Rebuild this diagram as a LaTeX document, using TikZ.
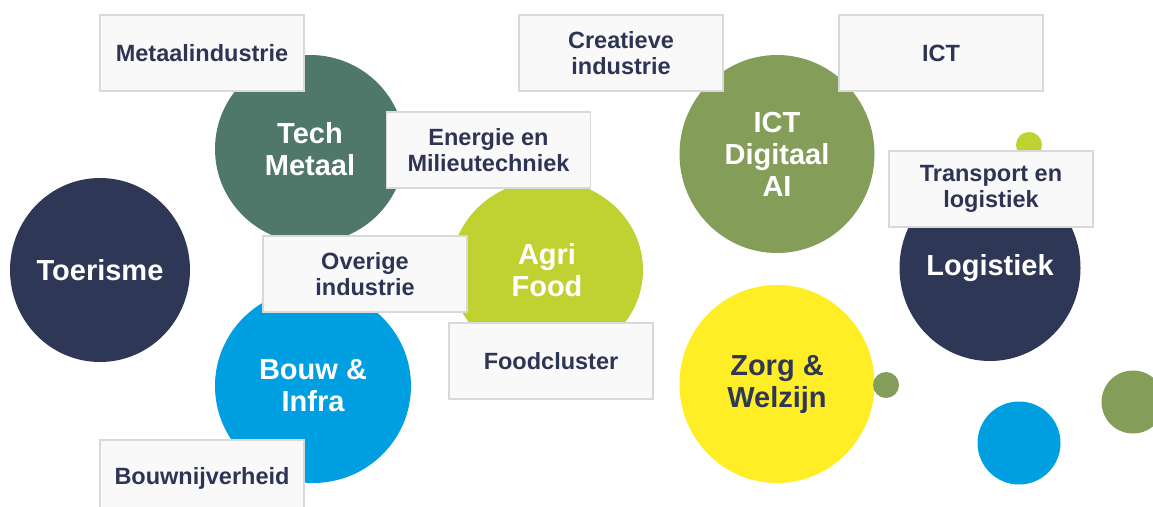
\documentclass[tikz,border=0pt]{standalone}
\usepackage{fontspec}
\setmainfont{Liberation Sans}
\usetikzlibrary{shapes.geometric}
\definecolor{navy}{HTML}{2F3757}
\definecolor{techgreen}{HTML}{50786A}
\definecolor{lime}{HTML}{BFD231}
\definecolor{bouwblue}{HTML}{009FE1}
\definecolor{olive}{HTML}{849E5A}
\definecolor{zorgyellow}{HTML}{FFEE26}
\definecolor{boxfill}{HTML}{F9F9F9}
\definecolor{boxline}{HTML}{D9D9D9}
\definecolor{boxtext}{HTML}{2E3554}
\tikzset{
  blob/.style={ellipse, inner sep=0pt, text=white, align=center,
    font=\fontsize{29}{32}\selectfont\bfseries},
  sector/.style={rectangle, draw=boxline, line width=1.2pt, fill=boxfill,
    minimum width=204pt, minimum height=76pt, inner sep=0pt, align=center,
    text=boxtext, font=\fontsize{23.5}{26}\selectfont\bfseries},
  dot/.style={circle, inner sep=0pt}
}
\begin{document}
\begin{tikzpicture}[x=1pt,y=-1pt]
\useasboundingbox (0,0) rectangle (1153,506);
\clip (0,0) rectangle (1153,506);
% blobs
\node[blob, fill=navy, minimum width=180pt, minimum height=184pt] (toer) at (100,270) {Toerisme};
\node[blob, fill=techgreen, minimum width=190pt, minimum height=188pt] (tech) at (310,149) {Tech\\Metaal};
\node[blob, fill=lime, minimum width=192pt, minimum height=180pt] (agri) at (547,270) {Agri\\Food};
\node[blob, fill=bouwblue, minimum width=196pt, minimum height=194pt] (bouw) at (313,386) {Bouw \&\\Infra};
\node[blob, fill=olive, minimum width=195pt, minimum height=198pt] (ict) at (777,154) {ICT\\Digitaal\\AI};
\node[blob, fill=navy, minimum width=181pt, minimum height=186pt] (logi) at (990,268) {Logistiek};
\node[blob, fill=zorgyellow, text=navy, minimum width=195pt, minimum height=198pt] (zorg) at (777,384) {Zorg \&\\Welzijn};
% small dots
\node[dot, fill=lime, minimum size=26pt] (d1) at (1029,145) {};
\node[dot, fill=olive, minimum size=26pt] (d2) at (886,385) {};
\node[dot, fill=bouwblue, minimum size=83pt] (d3) at (1019,443) {};
\node[dot, fill=olive, minimum size=63pt] (d4) at (1133,402) {};
% boxes
\node[sector] (metaal) at (202,53) {Metaalindustrie};
\node[sector] (energie) at (488.5,150) {Energie en\\Milieutechniek};
\node[sector] (overige) at (365,274) {Overige\\industrie};
\node[sector] (food) at (551,361) {Foodcluster};
\node[sector] (bouwn) at (202,478) {Bouwnijverheid};
\node[sector] (creat) at (621,53) {Creatieve\\industrie};
\node[sector] (ictbox) at (941,53) {ICT};
\node[sector] (trans) at (991,189) {Transport en\\logistiek};
\end{tikzpicture}
\end{document}
